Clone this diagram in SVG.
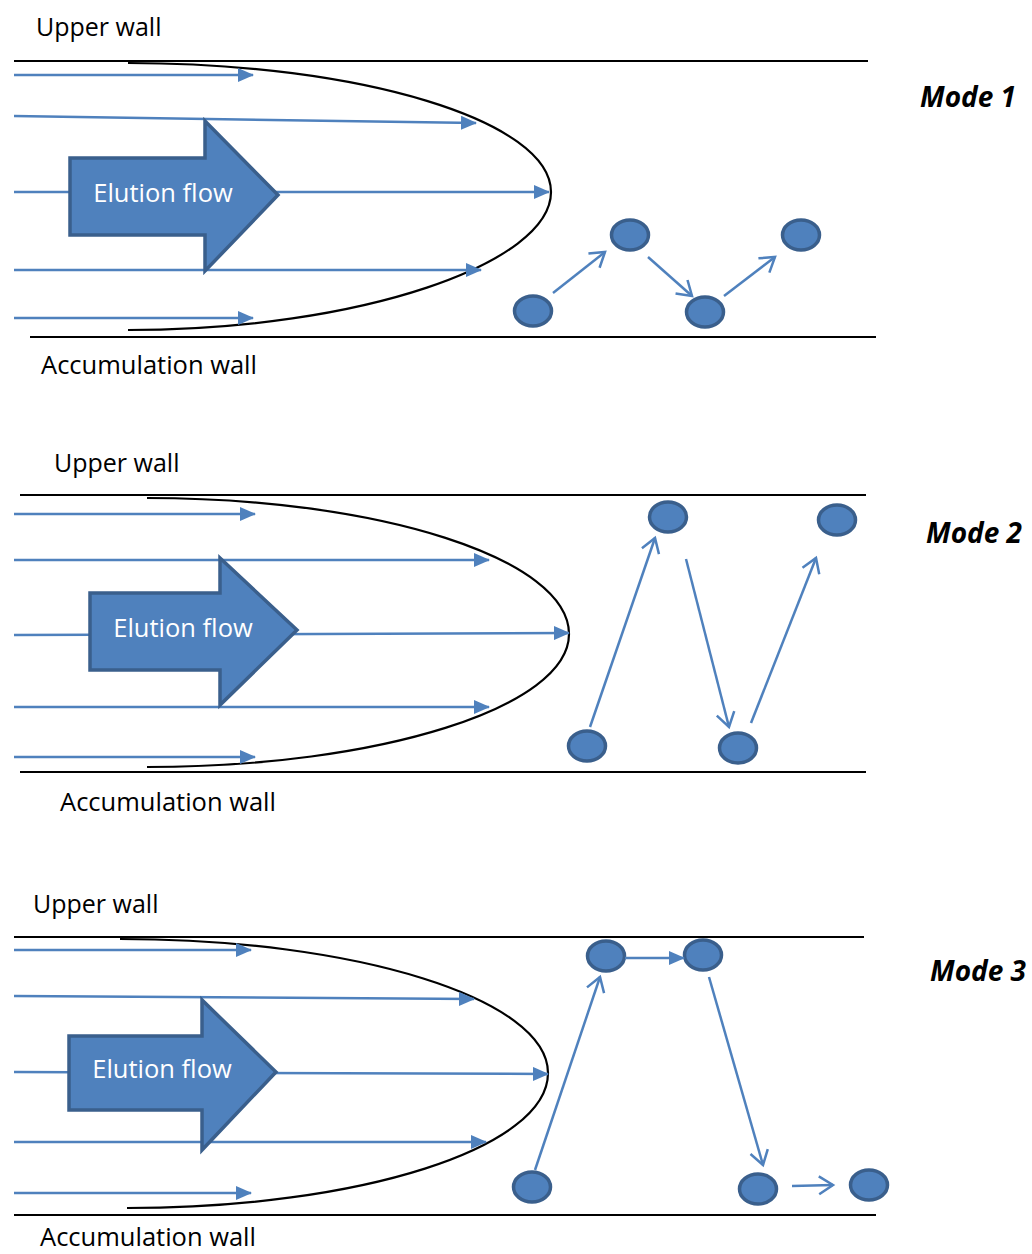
<svg xmlns="http://www.w3.org/2000/svg" width="1032" height="1254" viewBox="0 0 1032 1254">
<defs>
<style>
.wall{stroke:#000;stroke-width:2;fill:none}
.prof{stroke:#000;stroke-width:2.2;fill:none}
.flow{stroke:#4F81BD;stroke-width:2.5;fill:none;marker-end:url(#fh)}
.big{fill:#4F81BD;stroke:#3A5F8C;stroke-width:3.5;stroke-linejoin:miter}
.bt{font-family:"Open Sans","Liberation Sans",sans-serif;font-size:25.5px;fill:#fff}
.lbl{font-family:"Open Sans","Liberation Sans",sans-serif;font-size:25px;fill:#000}
.mode{font-family:"Open Sans","Liberation Sans",sans-serif;font-size:28px;font-weight:bold;font-style:italic;fill:#000}
.p{fill:#4F81BD;stroke:#3A5F8C;stroke-width:3.5}
.mv{stroke:#4F81BD;stroke-width:2.5;fill:none;marker-end:url(#oh)}
.mvf{stroke:#4F81BD;stroke-width:2.5;fill:none;marker-end:url(#fh)}
</style>
<marker id="fh" markerUnits="userSpaceOnUse" markerWidth="16" markerHeight="14" viewBox="0 0 16 14" refX="15" refY="7" orient="auto">
<path d="M0,0 L16,7 L0,14 z" fill="#4F81BD"/>
</marker>
<marker id="oh" markerUnits="userSpaceOnUse" markerWidth="20" markerHeight="22" viewBox="0 0 20 22" refX="17" refY="11" orient="auto">
<path d="M3,2 L17,11 L3,20" fill="none" stroke="#4F81BD" stroke-width="2.5"/>
</marker>
</defs>

<g id="mode1">
<text class="lbl" x="36" y="36">Upper wall</text>
<text class="lbl" x="41" y="374" textLength="216" lengthAdjust="spacingAndGlyphs">Accumulation wall</text>
<text class="mode" x="920" y="107">Mode 1</text>
<line class="wall" x1="14" y1="61" x2="868" y2="61"/>
<line class="wall" x1="30" y1="337" x2="876" y2="337"/>
<path class="prof" d="M128,63 C361,63 551,121 551,192 C551,263 361,330 128,330"/>
<g id="m1-flow">
<line class="flow" x1="14" y1="75" x2="253" y2="75"/>
<line class="flow" x1="14" y1="116" x2="476" y2="123"/>
<line class="flow" x1="14" y1="192" x2="549" y2="192"/>
<line class="flow" x1="14" y1="270" x2="481" y2="270"/>
<line class="flow" x1="14" y1="318" x2="253" y2="318"/>
</g>
<g id="m1-elution">
<path class="big" d="M70,158 L205,158 L205,121 L278,195 L205,271 L205,235 L70,235 z"/>
<text class="bt" x="163" y="202" text-anchor="middle">Elution flow</text>
</g>
<g id="m1-particles">
<ellipse class="p" cx="533" cy="311" rx="18.5" ry="15"/>
<ellipse class="p" cx="630" cy="235" rx="18.5" ry="15"/>
<ellipse class="p" cx="705" cy="312" rx="18.5" ry="15"/>
<ellipse class="p" cx="801" cy="235" rx="18.5" ry="15"/>
</g>
<g id="m1-moves">
<line class="mv" x1="553" y1="293" x2="605" y2="252"/>
<line class="mv" x1="648" y1="257" x2="692" y2="296"/>
<line class="mv" x1="724" y1="296" x2="775" y2="257"/>
</g>
</g>

<g id="mode2">
<text class="lbl" x="54" y="472">Upper wall</text>
<text class="lbl" x="60" y="811" textLength="216" lengthAdjust="spacingAndGlyphs">Accumulation wall</text>
<text class="mode" x="926" y="543">Mode 2</text>
<line class="wall" x1="20" y1="495" x2="866" y2="495"/>
<line class="wall" x1="20" y1="772" x2="866" y2="772"/>
<path class="prof" d="M147,498 C380,498 569,559 569,634 C569,707 380,767 147,767"/>
<g id="m2-flow">
<line class="flow" x1="14" y1="514" x2="255" y2="514"/>
<line class="flow" x1="14" y1="560" x2="489" y2="560"/>
<line class="flow" x1="14" y1="635" x2="569" y2="633"/>
<line class="flow" x1="14" y1="707" x2="489" y2="707"/>
<line class="flow" x1="14" y1="757" x2="255" y2="757"/>
</g>
<g id="m2-elution">
<path class="big" d="M90,593 L220,593 L220,558 L297,630 L220,705 L220,670 L90,670 z"/>
<text class="bt" x="183" y="637" text-anchor="middle">Elution flow</text>
</g>
<g id="m2-particles">
<ellipse class="p" cx="587" cy="746" rx="18.5" ry="15"/>
<ellipse class="p" cx="668" cy="517" rx="18.5" ry="15"/>
<ellipse class="p" cx="738" cy="748" rx="18.5" ry="15"/>
<ellipse class="p" cx="837" cy="520" rx="18.5" ry="15"/>
</g>
<g id="m2-moves">
<line class="mv" x1="590" y1="727" x2="655" y2="538"/>
<line class="mv" x1="686" y1="559" x2="729" y2="727"/>
<line class="mv" x1="751" y1="723" x2="816" y2="558"/>
</g>
</g>

<g id="mode3">
<text class="lbl" x="33" y="913">Upper wall</text>
<text class="lbl" x="40" y="1246" textLength="216" lengthAdjust="spacingAndGlyphs">Accumulation wall</text>
<text class="mode" x="930" y="981">Mode 3</text>
<line class="wall" x1="14" y1="937" x2="864" y2="937"/>
<line class="wall" x1="14" y1="1215" x2="876" y2="1215"/>
<path class="prof" d="M120,939 C356,939 548,999 548,1073 C548,1148 360,1208 127,1208"/>
<g id="m3-flow">
<line class="flow" x1="14" y1="950" x2="251" y2="950"/>
<line class="flow" x1="14" y1="996" x2="474" y2="999"/>
<line class="flow" x1="14" y1="1072" x2="548" y2="1074"/>
<line class="flow" x1="14" y1="1142" x2="486" y2="1142"/>
<line class="flow" x1="14" y1="1193" x2="251" y2="1193"/>
</g>
<g id="m3-elution">
<path class="big" d="M69,1036 L202,1036 L202,1000 L276,1072 L202,1150 L202,1110 L69,1110 z"/>
<text class="bt" x="162" y="1078" text-anchor="middle">Elution flow</text>
</g>
<g id="m3-particles">
<ellipse class="p" cx="532" cy="1187" rx="18.5" ry="15"/>
<ellipse class="p" cx="606" cy="956" rx="18.5" ry="15"/>
<ellipse class="p" cx="703" cy="955" rx="18.5" ry="15"/>
<ellipse class="p" cx="758" cy="1189" rx="18.5" ry="15"/>
<ellipse class="p" cx="869" cy="1185" rx="18.5" ry="15"/>
</g>
<g id="m3-moves">
<line class="mv" x1="535" y1="1170" x2="600" y2="977"/>
<line class="mvf" x1="625" y1="958" x2="684" y2="958"/>
<line class="mv" x1="709" y1="977" x2="763" y2="1165"/>
<line class="mv" x1="792" y1="1186" x2="833" y2="1185"/>
</g>
</g>
</svg>
